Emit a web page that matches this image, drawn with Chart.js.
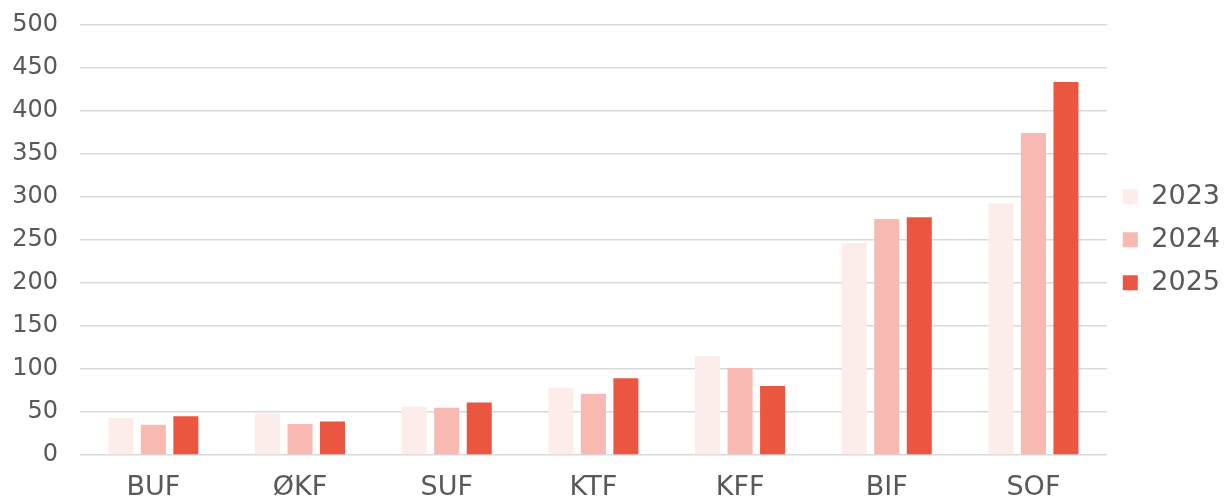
<!DOCTYPE html>
<html>
<head>
<meta charset="utf-8">
<script src="https://cdn.jsdelivr.net/npm/chart.js@4/dist/chart.umd.min.js"></script>
<style>
html,body{margin:0;padding:0;background:#fff;overflow:hidden;}
#wrap{position:absolute;left:0;top:-12.5px;width:1225px;height:528px;}
</style>
</head>
<body>
<div id="wrap"><canvas id="c"></canvas></div>
<script>
const categories = ["BUF", "ØKF", "SUF", "KTF", "KFF", "BIF", "SOF"];
const seriesNames = ["2023", "2024", "2025"];
const values2023 = [43, 48, 56, 78, 115, 246, 292];
const values2024 = [35, 36, 55, 71, 101, 274, 374];
const values2025 = [45, 39, 61, 89, 80, 276, 433];
const colors = ["#FCECEA", "#F7B9B2", "#EB5640"];

const FONT = "'DejaVu Sans', sans-serif";
const TEXT = "#595959";

new Chart(document.getElementById('c'), {
  type: 'bar',
  data: {
    labels: categories,
    datasets: [values2023, values2024, values2025].map((v, i) => ({
      label: seriesNames[i],
      data: v,
      backgroundColor: colors[i],
      borderWidth: 0,
      categoryPercentage: 0.665,
      barPercentage: 0.77
    }))
  },
  options: {
    responsive: true,
    maintainAspectRatio: false,
    animation: false,
    layout: { padding: { top: 0, right: -5, left: 0, bottom: 0 } },
    plugins: {
      tooltip: { enabled: false },
      legend: {
        position: 'right',
        align: 'center',
        fullSize: false,
        labels: {
          boxWidth: 15,
          boxHeight: 15,
          padding: 16,
          color: TEXT,
          font: { family: FONT, size: 27 }
        }
      }
    },
    scales: {
      x: {
        grid: { display: false, drawTicks: false },
        border: { display: false },
        ticks: { color: TEXT, font: { family: FONT, size: 27 }, padding: 17, maxRotation: 0 },
        afterFit: (s) => { s.height = 61; }
      },
      y: {
        min: 0,
        max: 500,
        grid: { color: "#d9d9d9", lineWidth: 1.5, drawTicks: false },
        border: { display: false },
        ticks: { stepSize: 50, color: TEXT, font: { family: FONT, size: 24 }, padding: 22 },
        afterFit: (s) => { s.width = 80; }
      }
    }
  }
});
</script>
</body>
</html>
